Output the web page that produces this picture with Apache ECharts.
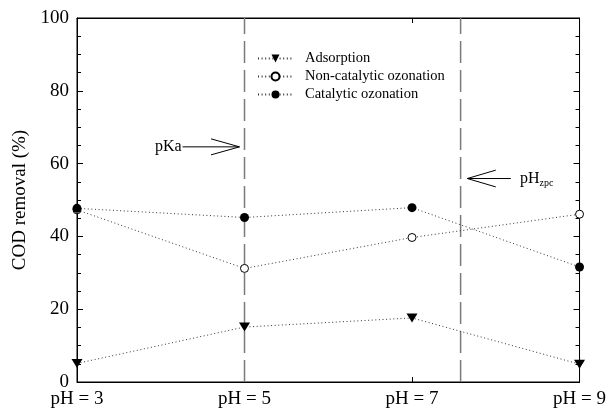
<!DOCTYPE html>
<html>
<head>
<meta charset="utf-8">
<script src="https://cdn.jsdelivr.net/npm/echarts@6/dist/echarts.min.js"></script>
<style>html,body{margin:0;padding:0;background:#fff}#c{width:609px;height:412px}</style>
</head>
<body>
<div id="c"></div>
<script>
// ---- data ----
const categories = ['pH = 3', 'pH = 5', 'pH = 7', 'pH = 9'];
const categoryPH = [3, 5, 7, 9];
const seriesNames = ['Adsorption', 'Non-catalytic ozonation', 'Catalytic ozonation'];
const adsorption = [5.1, 15.1, 17.6, 4.9];
const nonCatalytic = [47.3, 31.2, 39.7, 46.1];
const catalytic = [47.7, 45.2, 47.9, 31.6];
const yMin = 0, yMax = 100, yInterval = 20;
const phMin = 3, phMax = 9;
// dashed reference lines (pKa, pHzpc) in pH units
const dashedLinesPH = [5, 7.58];
// arrows: [tailPH, tipPH, y, headBasePH, headHalfHeight]
const arrowDefs = [
  [4.26, 4.94, 64.6, 4.60, 2.2],
  [8.18, 7.66, 55.9, 8.00, 2.3]
];
// annotation labels: [pH, y, text]
const annotationLabels = [
  [4.09, 64.6, 'pKa'],
  [8.29, 55.9, 'pHzpc']
];

const FONT = 'Liberation Serif';
const chart = echarts.init(document.getElementById('c'), null, {renderer: 'canvas'});
const tri = 'path://M0,0L2,0L1,1.7Z';

function yAx(pos, withLabels) {
  return {
    type: 'value', min: yMin, max: yMax, interval: yInterval, position: pos,
    axisLine: {show: true, onZero: false, lineStyle: {color: '#000', width: 1}},
    axisTick: {show: true, inside: true, length: 6, lineStyle: {color: '#000', width: 1}},
    minorTick: {show: true, splitNumber: 4, length: 4, lineStyle: {color: '#000', width: 1}},
    axisLabel: withLabels ? {fontFamily: FONT, fontSize: 19, color: '#000', margin: 8} : {show: false},
    splitLine: {show: false}
  };
}
function xAx(pos, withLabels) {
  return {
    type: 'value', min: phMin, max: phMax, position: pos,
    axisLine: {show: true, onZero: false, lineStyle: {color: '#000', width: 1}},
    axisTick: {show: true, inside: true, length: 5, customValues: categoryPH, lineStyle: {color: '#000', width: 1}},
    axisLabel: withLabels ? {
      fontFamily: FONT, fontSize: 19, color: '#000', margin: 8, customValues: categoryPH,
      formatter: v => categories[categoryPH.indexOf(v)] || ''
    } : {show: false},
    splitLine: {show: false}
  };
}

const yLeft = yAx('left', true);
yLeft.name = 'COD removal (%)';
yLeft.nameLocation = 'middle';
yLeft.nameGap = 43;
yLeft.nameRotate = 90;
yLeft.nameTextStyle = {fontFamily: FONT, fontSize: 19, color: '#000'};

const lineStyleDotted = {color: '#333', width: 1, type: [1, 2.6]};

const option = {
  animation: false,
  backgroundColor: '#fff',
  textStyle: {fontFamily: FONT},
  grid: {left: 77, right: 27, top: 18, bottom: 30, show: true, borderColor: '#000', borderWidth: 1, backgroundColor: 'transparent'},
  legend: {
    orient: 'vertical',
    left: 252, top: 46,
    itemWidth: 35, itemHeight: 10, itemGap: 3,
    data: seriesNames,
    textStyle: {fontFamily: FONT, fontSize: 14.5, color: '#000', padding: [0, 0, 0, 7]}
  },
  xAxis: [xAx('bottom', true), xAx('top', false)],
  yAxis: [yLeft, yAx('right', false)],
  series: [
    {
      type: 'custom', silent: true, z: 1,
      data: dashedLinesPH.map(v => [v, yMin]),
      encode: {x: 0, y: 1},
      renderItem: function (params, api) {
        const p0 = api.coord([api.value(0), yMin]);
        const p1 = api.coord([api.value(0), yMax]);
        return {
          type: 'line',
          shape: {x1: p0[0], y1: p0[1], x2: p1[0], y2: p1[1]},
          style: {stroke: '#7a7a7a', lineWidth: 1.5, lineDash: [22, 7]}
        };
      }
    },
    {
      type: 'custom', silent: true, z: 1,
      data: arrowDefs.map(d => [d[0], d[2]]),
      encode: {x: 0, y: 1},
      renderItem: function (params, api) {
        const d = arrowDefs[params.dataIndex];
        const tail = api.coord([d[0], d[2]]);
        const tip = api.coord([d[1], d[2]]);
        const hu = api.coord([d[3], d[2] + d[4]]);
        const hl = api.coord([d[3], d[2] - d[4]]);
        const st = {stroke: '#000', lineWidth: 1, fill: null};
        return {
          type: 'group',
          children: [
            {type: 'line', shape: {x1: tail[0], y1: tail[1], x2: tip[0], y2: tip[1]}, style: st},
            {type: 'polyline', shape: {points: [hu, tip, hl]}, style: st}
          ]
        };
      }
    },
    {
      type: 'custom', silent: true, z: 1,
      data: annotationLabels.map(a => [a[0], a[1]]),
      encode: {x: 0, y: 1},
      renderItem: function (params, api) {
        const a = annotationLabels[params.dataIndex];
        const p = api.coord([a[0], a[1]]);
        if (a[2] === 'pKa') {
          return {
            type: 'text',
            style: {x: p[0], y: p[1], text: 'pKa', font: '16px "' + FONT + '"', fill: '#000', align: 'center', verticalAlign: 'middle'}
          };
        }
        return {
          type: 'text',
          style: {
            x: p[0], y: p[1], text: '{a|pH}{b|zpc}', align: 'left', verticalAlign: 'middle', fill: '#000',
            rich: {
              a: {fontFamily: FONT, fontSize: 16, fill: '#000', lineHeight: 18},
              b: {fontFamily: FONT, fontSize: 10, fill: '#000', padding: [9, 0, 0, 0], lineHeight: 18}
            }
          }
        };
      }
    },
    {
      name: seriesNames[0], type: 'line', z: 3,
      data: categoryPH.map((x, i) => [x, adsorption[i]]),
      symbol: tri, symbolSize: [11, 9],
      itemStyle: {color: '#000'},
      lineStyle: lineStyleDotted
    },
    {
      name: seriesNames[1], type: 'line', z: 3,
      data: categoryPH.map((x, i) => [x, nonCatalytic[i]]),
      symbol: 'circle', symbolSize: 8,
      itemStyle: {color: '#fff', borderColor: '#000', borderWidth: 1},
      lineStyle: lineStyleDotted
    },
    {
      name: seriesNames[2], type: 'line', z: 3,
      data: categoryPH.map((x, i) => [x, catalytic[i]]),
      symbol: 'circle', symbolSize: 9,
      itemStyle: {color: '#000'},
      lineStyle: lineStyleDotted
    }
  ]
};
chart.setOption(option);
</script>
</body>
</html>
